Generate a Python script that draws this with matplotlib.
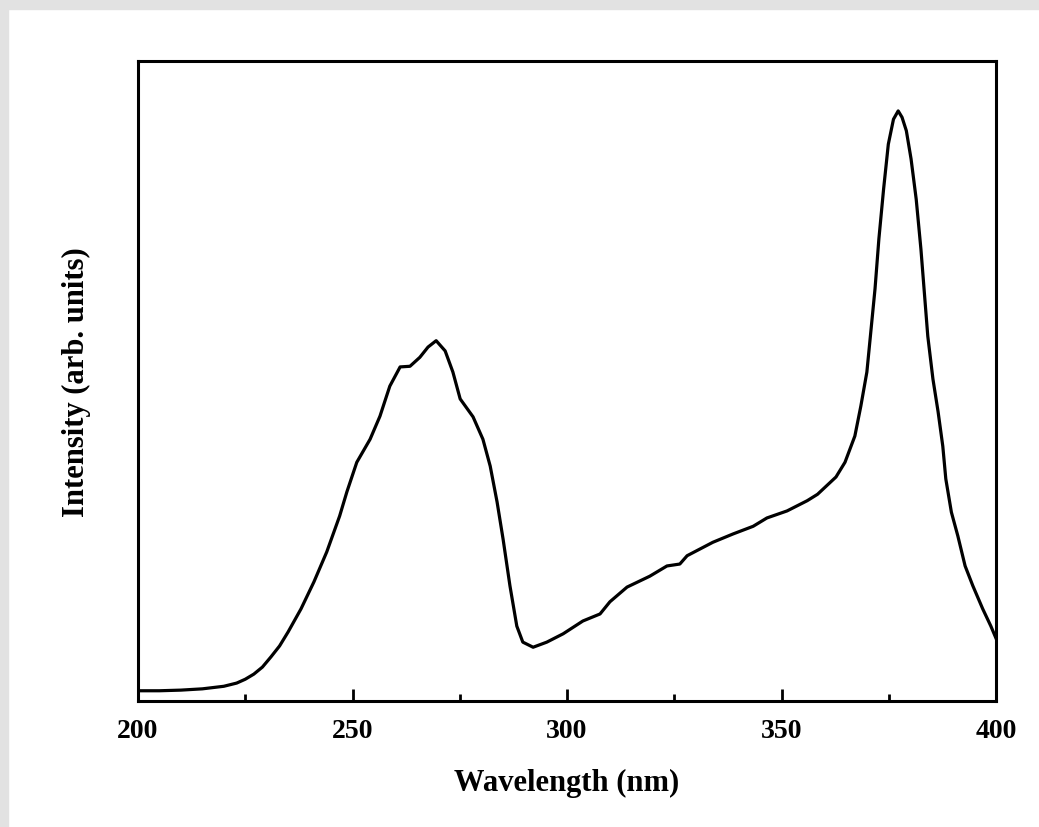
import matplotlib
matplotlib.use("Agg")
import matplotlib.pyplot as plt
from matplotlib.patches import Rectangle
from matplotlib.ticker import MultipleLocator, NullLocator
import numpy as np

# spectrum (arb. units, 0..1000 spans the axes height)
wavelength = [200, 205, 210, 215, 220, 223, 225, 227, 229, 231, 233, 235, 238,
              241, 244, 247, 248.7, 251, 254.1, 256.4, 258.7, 261.1, 263.4,
              265.7, 267.6, 269.5, 271.6, 273.4, 275.1, 278.1, 280.4, 282.1,
              283.7, 285.1, 286.7, 288.3, 289.7, 292.1, 295.3, 299.1, 303.7,
              307.7, 310.0, 314.0, 319.3, 323.3, 326.3, 328.0, 334.0, 338.7,
              343.4, 346.6, 351.3, 356.0, 358.4, 362.7, 364.8, 367.1, 368.5,
              369.9, 371.8, 372.7, 373.8, 374.9, 376.1, 377.2, 378.1, 379.1,
              380.2, 381.4, 382.5, 384.1, 385.3, 386.5, 387.6, 388.3, 389.6,
              391.1, 392.8, 394.6, 396.9, 398.8, 400]
intensity = [16, 16, 17, 19, 23, 28, 34, 42, 53, 69, 86, 108, 144,
             186, 233, 289, 327, 373, 409, 445, 492, 522, 523,
             537, 553, 563, 547, 514, 472, 444, 409, 367,
             311, 253, 180, 117, 92, 84, 92, 105, 125,
             136, 155, 178, 195, 211, 214, 227, 248, 261,
             273, 286, 297, 313, 323, 350, 373, 414, 461,
             514, 644, 722, 800, 870, 909, 922, 912, 891,
             847, 784, 706, 570, 503, 452, 398, 347, 295,
             258, 211, 180, 144, 117, 98]

plt.rcParams['font.family'] = ['Liberation Serif', 'DejaVu Serif']
plt.rcParams['font.weight'] = 'bold'

fig = plt.figure(figsize=(10.39, 8.28), dpi=100)
# light grey frame on the left and top edges
fig.patches.append(Rectangle((0, 0), 8/1039, 1, transform=fig.transFigure,
                             color='#e2e2e2', zorder=0))
fig.patches.append(Rectangle((0, 1 - 10/828), 1, 10/828, transform=fig.transFigure,
                             color='#e2e2e2', zorder=0))

ax = fig.add_axes([138/1039, 1 - 702/828, (996 - 138)/1039, (702 - 62)/828])
ax.plot(wavelength, intensity, color='k', lw=2.3, solid_joinstyle='round')

ax.set_xlim(200, 400)
ax.set_ylim(0, 1000)
ax.xaxis.set_major_locator(MultipleLocator(50))
ax.xaxis.set_minor_locator(MultipleLocator(25))
ax.yaxis.set_major_locator(NullLocator())
ax.tick_params(axis='x', which='major', direction='in', length=8.5, width=2,
               labelsize=20, pad=12, top=False)
ax.tick_params(axis='x', which='minor', direction='in', length=5, width=2, top=False)
for lab in ax.get_xticklabels():
    lab.set_fontweight('bold')
for sp in ax.spines.values():
    sp.set_linewidth(2.2)

ax.set_xlabel('Wavelength (nm)', fontsize=22, fontweight='bold', labelpad=18)
ax.set_ylabel('Intensity (arb. units)', fontsize=22, fontweight='bold', labelpad=34)

fig.savefig('out.png', dpi=100)
